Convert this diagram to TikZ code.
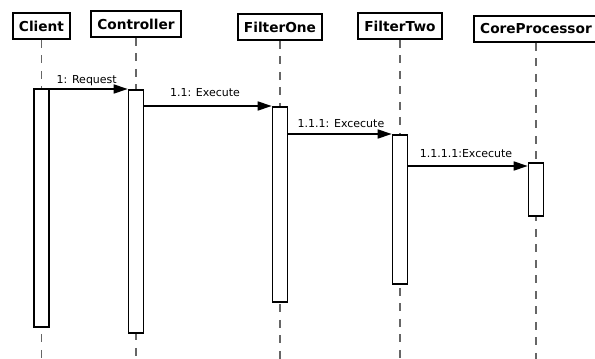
\documentclass[tikz,border=0pt]{standalone}
\usepackage{fontspec}
\setmainfont{DejaVu Sans}
\usetikzlibrary{arrows.meta, positioning}

\tikzset{
  head/.style={draw, line width=1.8pt, fill=white, inner xsep=6pt, inner ysep=0pt,
    minimum height=26pt, font=\fontsize{13.7}{16}\selectfont\bfseries},
  life/.style={dash pattern=on 8pt off 7.5pt, line width=1.2pt, black!60},
  act/.style={draw, line width=1.6pt, fill=white, minimum width=15pt, inner sep=0pt, anchor=north},
  msg/.style={line width=1.6pt, -{Triangle[length=14pt, width=9pt]}},
  lbl/.style={font=\fontsize{11}{13}\selectfont, inner sep=0pt, anchor=base},
}

\begin{document}
\begin{tikzpicture}[x=1pt, y=-1pt]
  \useasboundingbox (0,0) rectangle (595,359);

  % Participants and their lifelines (name / x / y / label)
  \foreach \n/\x/\y/\t in {cli/41.5/26/Client, ctl/136/24/Controller, one/280/27/FilterOne,
                           two/400/26/FilterTwo, core/536/29/CoreProcessor} {
    \node[head] (\n) at (\x,\y) {\t};
    \coordinate (\n-end) at (\x,359);
    \draw[life] (\n.south) -- (\n-end);
  }

  % Activation bars
  \node[act, minimum height=238pt] (actCli) at (41.5,88) {};
  \node[act, minimum height=243pt] (actCtl) at (136,89) {};
  \node[act, minimum height=195pt] (actOne) at (280,106) {};
  \node[act, minimum height=149pt] (actTwo) at (400,134) {};
  \node[act, minimum height=53pt] (actCore) at (536,162) {};

  % Messages
  \draw[msg] (actCli.east |- actCtl.north) -- node[lbl, xshift=-2pt, yshift=6pt] {1: Request} (actCtl.north west);
  \draw[msg] (actCtl.east |- actOne.north) -- node[lbl, xshift=-3pt, yshift=10pt] {1.1: Execute} (actOne.north west);
  \draw[msg] (actOne.east |- actTwo.north) -- node[lbl, xshift=1pt, yshift=7pt] {1.1.1: Excecute} (actTwo.north west);
  \coordinate (coreIn) at ([yshift=-4pt]actCore.north west);
  \draw[msg] (actTwo.east |- coreIn) -- node[lbl, xshift=-2pt, yshift=9pt] {1.1.1.1:Excecute} (coreIn);
\end{tikzpicture}
\end{document}
